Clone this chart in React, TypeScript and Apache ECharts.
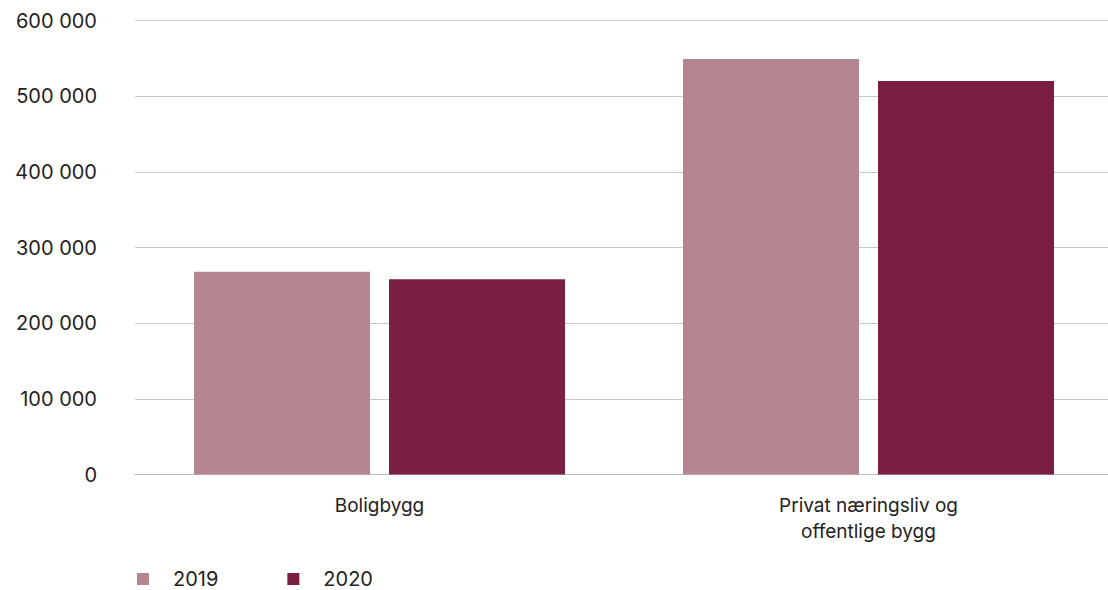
import React, { useEffect, useRef } from "react";
import * as echarts from "echarts";

const categories = ["Boligbygg", "Privat næringsliv og\noffentlige bygg"];
const seriesNames = ["2019", "2020"];
const values2019 = [268000, 549000];
const values2020 = [258000, 520000];
const colors = ["#b58592", "#7a1f43"];

const fmt = (v: number) => String(v).replace(/\B(?=(\d{3})+(?!\d))/g, " ");

export default function App() {
  const ref = useRef<HTMLDivElement>(null);
  useEffect(() => {
    const chart = echarts.init(ref.current!, undefined, { renderer: "svg" });
    const font = "Inter, 'Noto Sans', sans-serif";
    chart.setOption({
      animation: false,
      textStyle: { fontFamily: font },
      grid: { left: 135, right: 0, top: 20.5, bottom: 115.5, containLabel: false },
      legend: {
        left: 137,
        top: 569,
        padding: 0,
        icon: "rect",
        itemWidth: 12,
        itemHeight: 12,
        itemGap: 69,
        data: seriesNames,
        textStyle: { fontSize: 20, color: "#222", fontFamily: font, padding: [0, 0, 0, 19] },
      },
      xAxis: {
        type: "category",
        data: categories,
        axisTick: { show: false },
        axisLine: { lineStyle: { color: "#bdbdbd", width: 1 } },
        axisLabel: { color: "#222", fontSize: 19, margin: 17.5, lineHeight: 26, fontFamily: font },
      },
      yAxis: {
        type: "value",
        min: 0,
        max: 600000,
        interval: 100000,
        axisLine: { show: false },
        axisTick: { show: false },
        splitLine: { lineStyle: { color: "#c8c8c8", width: 1 } },
        axisLabel: { color: "#222", fontSize: 20, margin: 38, formatter: (v: number) => fmt(v), fontFamily: font },
      },
      series: [
        { name: seriesNames[0], type: "bar", data: values2019, barWidth: 176, barGap: "10.8%", itemStyle: { color: colors[0] } },
        { name: seriesNames[1], type: "bar", data: values2020, barWidth: 176, barGap: "10.8%", itemStyle: { color: colors[1] } },
      ],
    });
    return () => chart.dispose();
  }, []);
  return (
    <div style={{ position: "absolute", left: 0, top: 0, width: 1108, height: 590, overflow: "hidden" }}>
      <div ref={ref} style={{ width: 1113, height: 590 }} />
    </div>
  );
}
